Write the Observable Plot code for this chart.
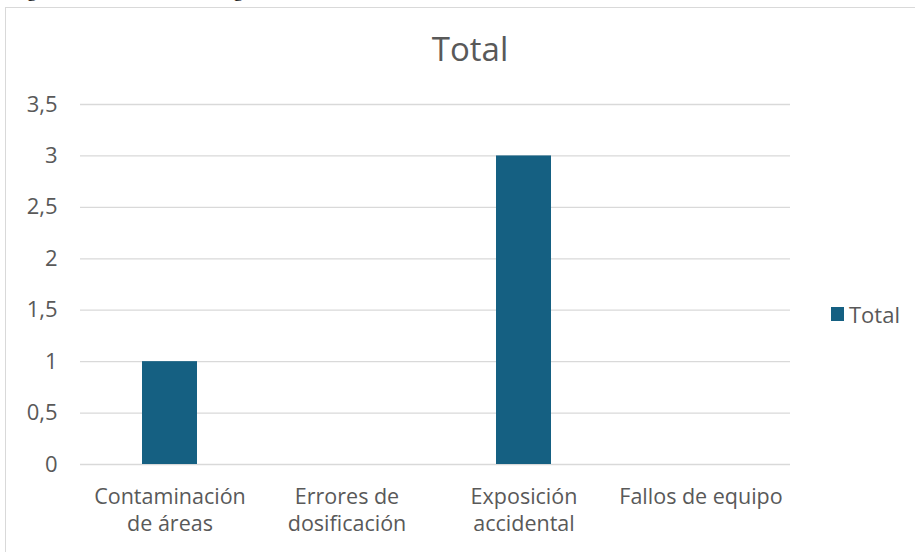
<!DOCTYPE html>
<html><head><meta charset="utf-8">
<script src="https://cdn.jsdelivr.net/npm/d3@7"></script>
<script src="https://cdn.jsdelivr.net/npm/@observablehq/plot@0.6"></script>
<style>
body{margin:0;background:#fff;}
#wrap{position:relative;width:915px;height:552px;overflow:hidden;font-family:"Open Sans",Roboto,sans-serif;}
#cap{position:absolute;left:6px;top:-20px;font-family:"Liberation Serif","DejaVu Serif",serif;font-size:19px;color:#000;white-space:nowrap;}
#frame{position:absolute;left:5px;top:7px;width:920px;height:560px;border:1px solid #d9d9d9;background:#fff;}
#title{position:absolute;left:0;width:940px;top:32px;line-height:1;text-align:center;font-size:33px;color:#595959;}
#chart{position:absolute;left:0;top:0;}
#legend{position:absolute;left:831px;top:303px;line-height:1;font-size:22px;color:#595959;display:flex;align-items:center;}
#legend span.sw{display:inline-block;width:13px;height:14px;background:#156082;margin-right:5px;}
</style></head>
<body>
<div id="wrap">
<div id="cap">Registro de incidentes radiológicos</div>
<div id="frame"></div>
<div id="title">Total</div>
<div id="chart"></div>
<div id="legend"><span class="sw"></span>Total</div>
</div>
<script>
const categories = ["Contaminación\nde áreas", "Errores de\ndosificación", "Exposición\naccidental", "Fallos de equipo"];
const values = [1, 0, 3, 0];
const yTicks = [0, 0.5, 1, 1.5, 2, 2.5, 3, 3.5];
const seriesName = "Total";

const data = categories.map((c, i) => ({cat: c, value: values[i]}));
const fmt = d => String(d).replace(".", ",");

const plot = Plot.plot({
  width: 915,
  height: 552,
  marginLeft: 80,
  marginRight: 125,
  marginTop: 104,
  marginBottom: 88,
  style: {background: "transparent", fontFamily: "'Open Sans', Roboto, sans-serif", color: "#595959"},
  x: {domain: categories, paddingInner: 0.69, paddingOuter: 0.345},
  y: {domain: [0, 3.5]},
  marks: [
    Plot.ruleY(yTicks, {stroke: "#d9d9d9", strokeWidth: 1.3}),
    Plot.barY(data, {x: "cat", y: "value", fill: "#156082"}),
    Plot.axisY(yTicks, {tickSize: 0, tickPadding: 23, tickFormat: fmt, fontSize: 22, fill: "#595959", label: null}),
    Plot.axisX({tickSize: 0, tickPadding: 20, fontSize: 21.5, fill: "#595959", lineHeight: 1.27, label: null, textAnchor: "middle"})
  ]
});
document.getElementById("chart").appendChild(plot);
</script>
</body></html>
